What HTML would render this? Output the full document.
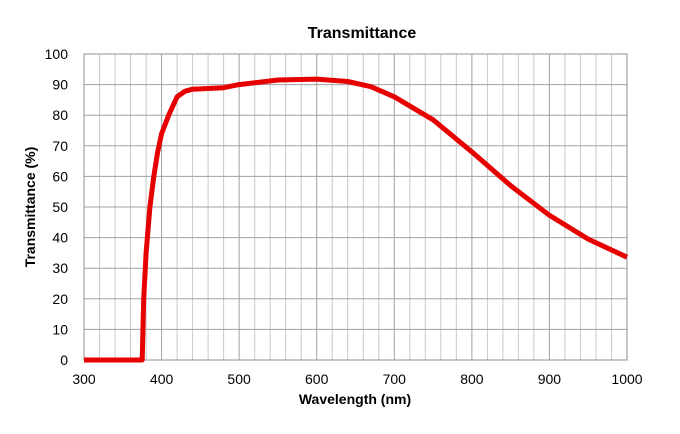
<!DOCTYPE html><html><head><style>body{margin:0;background:#fff}</style></head><body>
<svg width="680" height="429" xmlns="http://www.w3.org/2000/svg" font-family="Liberation Sans, Arial, sans-serif">
<rect width="680" height="429" fill="#fff"/>
<g stroke="#c8c8c8" stroke-width="1">
<line x1="99.5" y1="54" x2="99.5" y2="360"/><line x1="115" y1="54" x2="115" y2="360"/><line x1="130.5" y1="54" x2="130.5" y2="360"/><line x1="146.1" y1="54" x2="146.1" y2="360"/>
<line x1="177.1" y1="54" x2="177.1" y2="360"/><line x1="192.6" y1="54" x2="192.6" y2="360"/><line x1="208.1" y1="54" x2="208.1" y2="360"/><line x1="223.6" y1="54" x2="223.6" y2="360"/>
<line x1="254.7" y1="54" x2="254.7" y2="360"/><line x1="270.2" y1="54" x2="270.2" y2="360"/><line x1="285.7" y1="54" x2="285.7" y2="360"/><line x1="301.2" y1="54" x2="301.2" y2="360"/>
<line x1="332.2" y1="54" x2="332.2" y2="360"/><line x1="347.7" y1="54" x2="347.7" y2="360"/><line x1="363.3" y1="54" x2="363.3" y2="360"/><line x1="378.8" y1="54" x2="378.8" y2="360"/>
<line x1="409.8" y1="54" x2="409.8" y2="360"/><line x1="425.3" y1="54" x2="425.3" y2="360"/><line x1="440.8" y1="54" x2="440.8" y2="360"/><line x1="456.3" y1="54" x2="456.3" y2="360"/>
<line x1="487.4" y1="54" x2="487.4" y2="360"/><line x1="502.9" y1="54" x2="502.9" y2="360"/><line x1="518.4" y1="54" x2="518.4" y2="360"/><line x1="533.9" y1="54" x2="533.9" y2="360"/>
<line x1="564.9" y1="54" x2="564.9" y2="360"/><line x1="580.4" y1="54" x2="580.4" y2="360"/><line x1="596" y1="54" x2="596" y2="360"/><line x1="611.5" y1="54" x2="611.5" y2="360"/>
</g>
<g stroke="#a0a0a0" stroke-width="1">
<line x1="161.6" y1="54" x2="161.6" y2="360"/><line x1="239.1" y1="54" x2="239.1" y2="360"/><line x1="316.7" y1="54" x2="316.7" y2="360"/><line x1="394.3" y1="54" x2="394.3" y2="360"/><line x1="471.9" y1="54" x2="471.9" y2="360"/><line x1="549.4" y1="54" x2="549.4" y2="360"/>
<line x1="84" y1="329.4" x2="627" y2="329.4"/><line x1="84" y1="298.8" x2="627" y2="298.8"/><line x1="84" y1="268.2" x2="627" y2="268.2"/><line x1="84" y1="237.6" x2="627" y2="237.6"/><line x1="84" y1="207" x2="627" y2="207"/><line x1="84" y1="176.4" x2="627" y2="176.4"/><line x1="84" y1="145.8" x2="627" y2="145.8"/><line x1="84" y1="115.2" x2="627" y2="115.2"/><line x1="84" y1="84.6" x2="627" y2="84.6"/>
</g>
<rect x="84" y="54" width="543" height="306" fill="none" stroke="#909090"/>
<g font-size="14" text-anchor="end">
<text x="68" y="365">0</text><text x="68" y="334.4">10</text><text x="68" y="303.8">20</text><text x="68" y="273.2">30</text><text x="68" y="242.6">40</text><text x="68" y="212">50</text><text x="68" y="181.4">60</text><text x="68" y="150.8">70</text><text x="68" y="120.2">80</text><text x="68" y="89.6">90</text><text x="68" y="59">100</text>
</g>
<g font-size="14" text-anchor="middle">
<text x="84" y="384">300</text><text x="161.6" y="384">400</text><text x="239.1" y="384">500</text><text x="316.7" y="384">600</text><text x="394.3" y="384">700</text><text x="471.9" y="384">800</text><text x="549.4" y="384">900</text><text x="627" y="384">1000</text>
</g>
<path d="M84,360 L142.2,360 L143.7,298.8 L146.1,252.9 L149.9,207 L153.8,176.4 L157.7,151.9 L161.6,133.6 L169.3,113.7 L177.1,96.8 L184.8,91.3 L192.6,89.2 L223.6,87.7 L239.1,84.6 L277.9,80 L316.7,79.1 L347.7,81.5 L371,86.7 L394.3,96.8 L433.1,119.8 L471.9,151.9 L510.6,185.6 L549.4,215.3 L588.2,239.1 L627,257.2" fill="none" stroke="#e60000" stroke-width="5" stroke-linejoin="round"/>
<text x="362" y="38" text-anchor="middle" font-size="16" font-weight="bold">Transmittance</text>
<text x="355" y="404" text-anchor="middle" font-size="14" font-weight="bold">Wavelength (nm)</text>
<text transform="translate(35,207) rotate(-90)" text-anchor="middle" font-size="14" font-weight="bold">Transmittance (%)</text>
</svg></body></html>
